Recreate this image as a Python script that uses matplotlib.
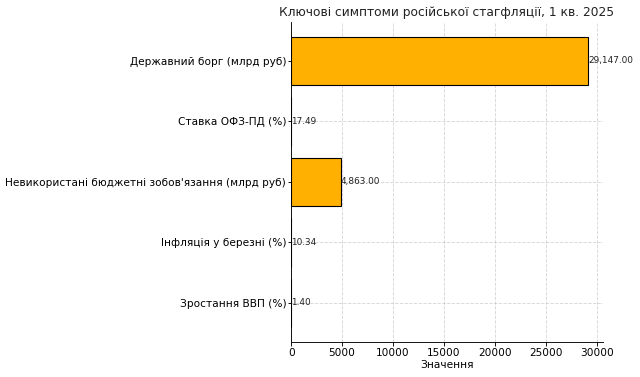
import matplotlib
matplotlib.use('Agg')
import matplotlib.pyplot as plt

categories = ['Зростання ВВП (%)',
              'Інфляція у березні (%)',
              "Невикористані бюджетні зобов'язання (млрд руб)",
              'Ставка ОФЗ-ПД (%)',
              'Державний борг (млрд руб)']
values = [1.40, 10.34, 4863.00, 17.49, 29147.00]

plt.rcParams['font.size'] = 9.5

figure, axis = plt.subplots(figsize=(8, 4.7125), dpi=80)
figure.subplots_adjust(left=0.455, right=0.942, top=0.941, bottom=0.094)

bars = axis.barh(categories, values, color='#FFB000', edgecolor='black', linewidth=1)
for bar, value in zip(bars, values):
    axis.text(bar.get_width(), bar.get_y() + bar.get_height() / 2,
              f'{value:,.2f}', ha='left', va='center', fontsize=8, color='#222222')

axis.set_title('Ключові симптоми російської стагфляції, 1 кв. 2025', fontsize=11, color='#222222')
axis.set_xlabel('Значення', labelpad=2)
axis.tick_params(axis='x', pad=2)
axis.tick_params(axis='y', pad=1.5, length=3)
axis.grid(True, linestyle='--', alpha=0.5)
axis.set_axisbelow(True)
axis.spines['top'].set_visible(False)
axis.spines['right'].set_visible(False)

figure.savefig('out.png', dpi=80)
